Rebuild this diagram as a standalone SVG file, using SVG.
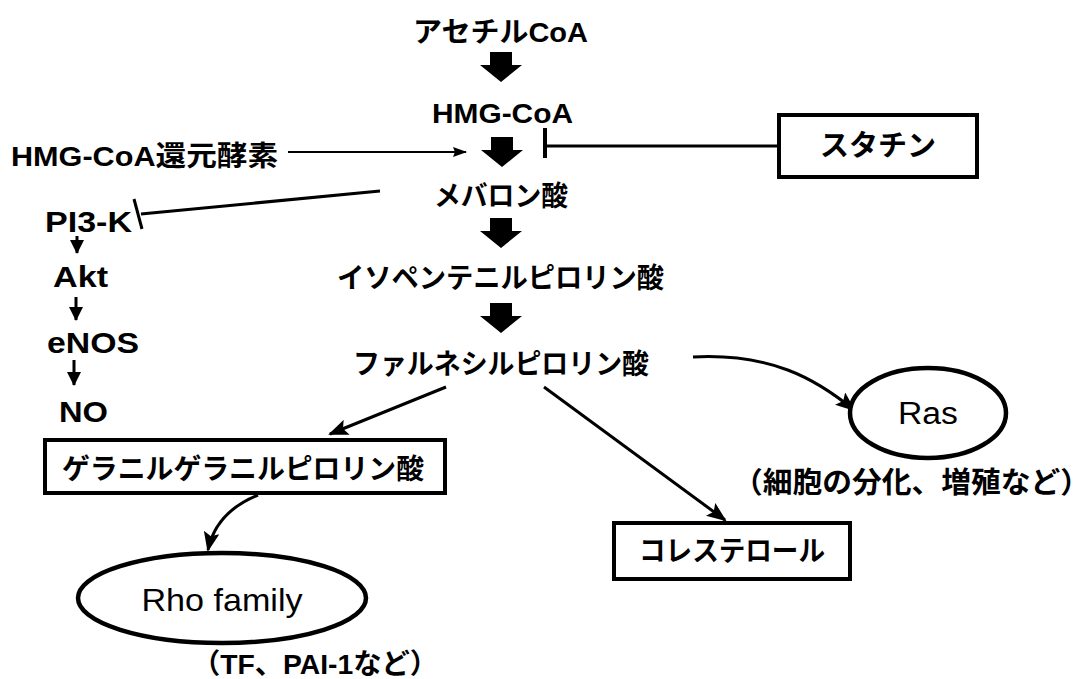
<svg xmlns="http://www.w3.org/2000/svg" width="1090" height="679" viewBox="0 0 1090 679">
<style>
  .t { font-family: "Liberation Sans", "Noto Sans CJK JP", sans-serif; font-weight: bold; fill: #000; }
  .r { font-family: "Liberation Sans", "Noto Sans CJK JP", sans-serif; font-weight: normal; fill: #000; }
  .box { fill: #fff; stroke: #000; stroke-width: 4; }
  .ell { fill: #fff; stroke: #000; stroke-width: 4.5; }
  .ln { fill: none; stroke: #000; stroke-width: 3; }
  .thin { fill: none; stroke: #000; stroke-width: 2.2; }
  .big { fill: #000; }
</style>
<defs>
  <marker id="ah" viewBox="0 0 20 16" refX="18" refY="8" markerWidth="20" markerHeight="16" markerUnits="userSpaceOnUse" orient="auto">
    <path d="M0,0 L20,8 L0,16 L4,8 Z" fill="#000"/>
  </marker>
  <marker id="ahs" viewBox="0 0 14 10" refX="13" refY="5" markerWidth="14" markerHeight="10" markerUnits="userSpaceOnUse" orient="auto">
    <path d="M0,0 L14,5 L0,10 L2,5 Z" fill="#000"/>
  </marker>
  <marker id="ahm" viewBox="0 0 14 14" refX="13" refY="7" markerWidth="14" markerHeight="14" markerUnits="userSpaceOnUse" orient="auto">
    <path d="M0,0 L14,7 L0,14 Z" fill="#000"/>
  </marker>
  <path id="bigarrow" d="M-11,-30 H11 V-17 H21 L0,0 L-21,-17 H-11 Z"/>
</defs>

<g id="connectors">
  <use href="#bigarrow" class="big" x="501" y="82"/>
  <use href="#bigarrow" class="big" x="502" y="167"/>
  <use href="#bigarrow" class="big" x="501" y="248"/>
  <use href="#bigarrow" class="big" x="501" y="333"/>
  <line class="thin" x1="288" y1="152" x2="466" y2="152" marker-end="url(#ahs)"/>
  <line class="ln" x1="779" y1="146" x2="545" y2="146"/>
  <line x1="545" y1="128" x2="545" y2="158" stroke="#000" stroke-width="4"/>
  <line class="ln" x1="380" y1="191" x2="141" y2="214"/>
  <line x1="134" y1="199" x2="142" y2="229" stroke="#000" stroke-width="3"/>
  <line class="ln" x1="77" y1="236" x2="77" y2="253" marker-end="url(#ahm)"/>
  <line class="ln" x1="76" y1="297" x2="76" y2="320" marker-end="url(#ahm)"/>
  <line class="ln" x1="74" y1="360" x2="74" y2="385" marker-end="url(#ahm)"/>
  <path class="ln" d="M693,357 C770,353 815,378 854,410" marker-end="url(#ah)"/>
  <line class="ln" x1="446" y1="387" x2="330" y2="434" marker-end="url(#ah)"/>
  <line class="ln" x1="544" y1="387" x2="725" y2="520" marker-end="url(#ah)"/>
  <path class="ln" d="M258,495 Q216,512 208,550" marker-end="url(#ah)"/>
</g>

<g id="acetylcoa"><text class="t" x="413" y="42" font-size="28" textLength="175" lengthAdjust="spacingAndGlyphs">アセチルCoA</text></g>
<g id="hmgcoa"><text class="t" x="432" y="123" font-size="27" textLength="141" lengthAdjust="spacingAndGlyphs">HMG-CoA</text></g>
<g id="reductase"><text class="t" x="11" y="166" font-size="28" textLength="267" lengthAdjust="spacingAndGlyphs">HMG-CoA還元酵素</text></g>
<g id="statin">
  <rect class="box" x="779" y="115" width="198" height="62"/>
  <text class="t" x="878" y="156" font-size="29" text-anchor="middle">スタチン</text>
</g>
<g id="mevalonate"><text class="t" x="434" y="206" font-size="28" textLength="134" lengthAdjust="spacingAndGlyphs">メバロン酸</text></g>
<g id="pi3k"><text class="t" x="45" y="232" font-size="30" textLength="87" lengthAdjust="spacingAndGlyphs">PI3-K</text></g>
<g id="akt"><text class="t" x="53" y="287" font-size="30" textLength="55" lengthAdjust="spacingAndGlyphs">Akt</text></g>
<g id="enos"><text class="t" x="47" y="353" font-size="30" textLength="92" lengthAdjust="spacingAndGlyphs">eNOS</text></g>
<g id="no"><text class="t" x="59" y="422" font-size="30" textLength="49" lengthAdjust="spacingAndGlyphs">NO</text></g>
<g id="ipp"><text class="t" x="337" y="288" font-size="28" textLength="327" lengthAdjust="spacingAndGlyphs">イソペンテニルピロリン酸</text></g>
<g id="fpp"><text class="t" x="353" y="374" font-size="28" textLength="296" lengthAdjust="spacingAndGlyphs">ファルネシルピロリン酸</text></g>
<g id="ras">
  <ellipse class="ell" cx="928" cy="413" rx="78" ry="45"/>
  <text class="r" x="928" y="424" font-size="31" text-anchor="middle" textLength="60" lengthAdjust="spacingAndGlyphs">Ras</text>
</g>
<g id="ras-note"><text class="t" x="733" y="493" font-size="29" textLength="357" lengthAdjust="spacingAndGlyphs">（細胞の分化、増殖など）</text></g>
<g id="ggpp">
  <rect class="box" x="45" y="440" width="400" height="53"/>
  <text class="t" x="62" y="479" font-size="28" textLength="362" lengthAdjust="spacingAndGlyphs">ゲラニルゲラニルピロリン酸</text>
</g>
<g id="cholesterol">
  <rect class="box" x="614" y="523" width="236" height="56"/>
  <text class="t" x="732" y="561" font-size="28" text-anchor="middle" textLength="186" lengthAdjust="spacingAndGlyphs">コレステロール</text>
</g>
<g id="rho">
  <ellipse class="ell" cx="222" cy="598" rx="144" ry="45"/>
  <text class="r" x="222" y="611" font-size="32" text-anchor="middle" textLength="161" lengthAdjust="spacingAndGlyphs">Rho family</text>
</g>
<g id="rho-note"><text class="t" x="192" y="674" font-size="28" textLength="246" lengthAdjust="spacingAndGlyphs">（TF、PAI-1など）</text></g>
</svg>
